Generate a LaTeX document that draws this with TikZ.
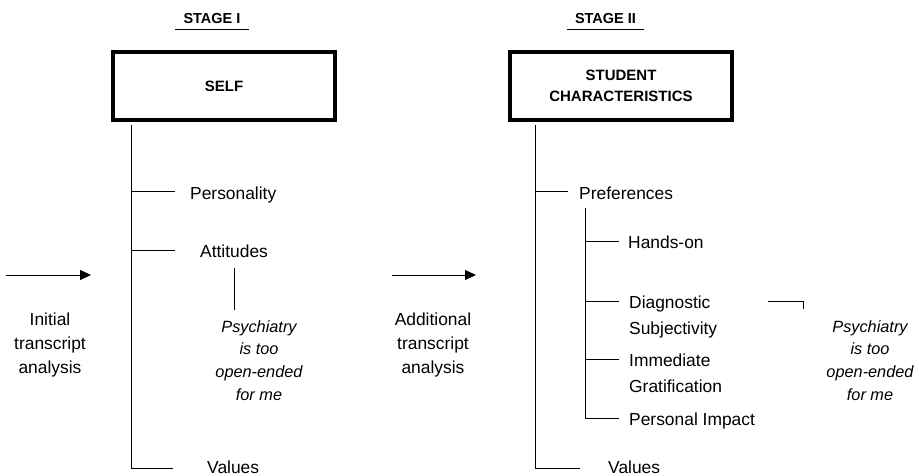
\documentclass[tikz,border=0pt]{standalone}
\usepackage{fontspec}
\setmainfont{Liberation Sans}
\usetikzlibrary{positioning, arrows.meta}

\begin{document}
\begin{tikzpicture}[x=1pt, y=-1pt,
    heading/.style={inner xsep=8pt, inner ysep=0pt, text depth=0pt, font=\bfseries\fontsize{14.5}{17}\selectfont},
    topicbox/.style={draw, line width=4pt, minimum width=222pt, minimum height=68pt, align=center, font=\bfseries\fontsize{15}{21}\selectfont},
    item/.style={anchor=north west, inner sep=0pt, align=left, font=\fontsize{17.4}{26}\selectfont},
    note/.style={anchor=north, inner sep=0pt, align=center, font=\fontsize{17.4}{24}\selectfont},
    quote/.style={anchor=north, inner sep=0pt, align=center, font=\itshape\fontsize{16.3}{22.7}\selectfont},
    branch/.style={line width=1pt},
    flow/.style={line width=1pt, -{Triangle[length=11pt, width=10pt]}}]
        \useasboundingbox (0,0) rectangle (919,476);

        % Stage I
        \node[heading, anchor=base] (stageA) at (212,24) {STAGE I};
        \draw[branch] ([yshift=-5pt]stageA.south west) -- ([yshift=-5pt]stageA.south east);
        \node[topicbox] (self) at (224,86) {SELF};

        \coordinate (tA) at (131,125);
        \coordinate (bPersA) at (175,192);
        \coordinate (bAttA) at (175,250);
        \coordinate (bValA) at (173,468);
        \node[item] (personality) at ([shift={(15,-5)}]bPersA) {Personality};
        \node[item] (attitudes) at ([shift={(25,-5)}]bAttA) {Attitudes};
        \node[item] (valuesA) at ([shift={(34,-7)}]bValA) {Values};
        \node[quote] (quoteA) at (259,320) {Psychiatry\\is too\\open-ended\\for me};

        \draw[branch] (tA) |- (bValA);
        \foreach \b in {bPersA, bAttA}
          \draw[branch] (tA |- \b) -- (\b);
        \draw[branch] ([yshift=-10pt]attitudes.south) -- ([yshift=10pt]attitudes.south |- quoteA.north);

        % Analysis steps
        \coordinate (inA) at (6,275);
        \coordinate (inB) at (91,275);
        \draw[flow] (inA) -- (inB);
        \node[note] (initial) at (50,313) {Initial\\transcript\\analysis};

        \coordinate (addA) at (392,275);
        \coordinate (addB) at (476,275);
        \draw[flow] (addA) -- (addB);
        \node[note] (additional) at (433,313) {Additional\\transcript\\analysis};

        % Stage II
        \node[heading, anchor=base] (stageB) at (605.5,24) {STAGE II};
        \draw[branch] ([yshift=-5pt]stageB.south west) -- ([yshift=-5pt]stageB.south east);
        \node[topicbox] (student) at (621,86) {STUDENT\\CHARACTERISTICS};

        \coordinate (tB) at (535,125);
        \coordinate (bPrefB) at (568,192);
        \coordinate (tS) at (585,208);
        \coordinate (bHands) at (619,241);
        \coordinate (bDiag) at (619,301);
        \coordinate (bImm) at (619,359);
        \coordinate (bImp) at (619,418);
        \coordinate (bValB) at (580,468);
        \node[item] (preferences) at ([shift={(11,-5)}]bPrefB) {Preferences};
        \node[item] (handson) at ([shift={(9,-5)}]bHands) {Hands-on};
        \node[item] (diagnostic) at ([shift={(10,-5)}]bDiag) {Diagnostic\\Subjectivity};
        \node[item] (immediate) at ([shift={(10,-5)}]bImm) {Immediate\\Gratification};
        \node[item] (impact) at ([shift={(10,-5)}]bImp) {Personal Impact};
        \node[item] (valuesB) at ([shift={(28,-7)}]bValB) {Values};
        \node[quote] (quoteB) at (870,320) {Psychiatry\\is too\\open-ended\\for me};

        \draw[branch] (tB) |- (bValB);
        \draw[branch] (tB |- bPrefB) -- (bPrefB);
        \draw[branch] (tS) |- (bImp);
        \foreach \b in {bHands, bDiag, bImm}
          \draw[branch] (tS |- \b) -- (\b);

        \coordinate (kA) at (768,301);
        \coordinate (kB) at (803,309);
        \draw[branch] (kA) -| (kB);
\end{tikzpicture}
\end{document}
